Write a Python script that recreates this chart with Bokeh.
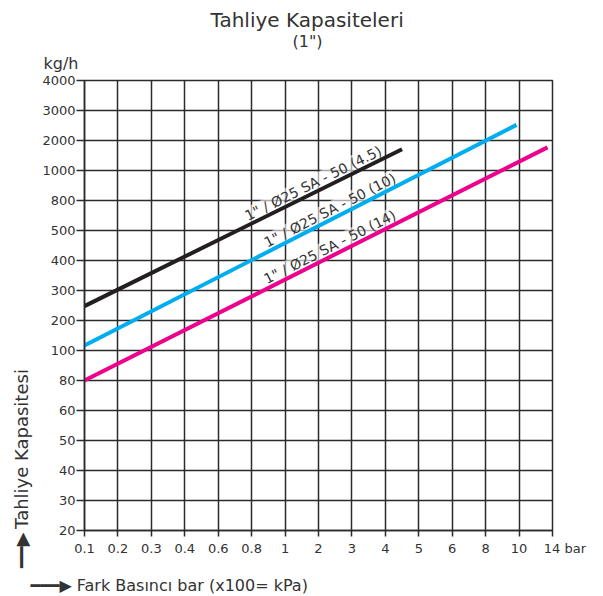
import numpy as np
from bokeh.plotting import figure
from bokeh.models import Range1d, FixedTicker, ColumnDataSource, Title
from bokeh.embed import file_html
from bokeh.resources import INLINE
from bokeh.core.properties import value

# ---- data ----
title_text = "Tahliye Kapasiteleri"
subtitle_text = '(1")'
y_unit = "kg/h"
x_unit = "bar"
y_title = "Tahliye Kapasitesi"
x_title = "Fark Basıncı bar (x100= kPa)"

x_ticks = [0.1, 0.2, 0.3, 0.4, 0.6, 0.8, 1, 2, 3, 4, 5, 6, 8, 10, 14]
x_tick_labels = ["0.1", "0.2", "0.3", "0.4", "0.6", "0.8", "1", "2", "3", "4", "5", "6", "8", "10", "14"]
y_ticks = [20, 30, 40, 50, 60, 80, 100, 200, 300, 400, 500, 800, 1000, 2000, 3000, 4000]
y_tick_labels = [str(v) for v in y_ticks]

series_names = ['1" / Ø25 SA - 50 (4.5)', '1" / Ø25 SA - 50 (10)', '1" / Ø25 SA - 50 (14)']
series_colors = ["#231f20", "#00aeef", "#ec008c"]
black_x = [0.1, 4.5]
black_y = [248, 1710]
blue_x = [0.1, 9.85]
blue_y = [117, 2520]
pink_x = [0.1, 13.4]
pink_y = [80, 1770]
label_at_bar = [1.95, 2.45, 2.45]

# ---- chart scale: ticks evenly spaced, linear between ticks ----
xi = np.arange(len(x_ticks))
yi = np.arange(len(y_ticks))


def xpos(v):
    return np.interp(v, x_ticks, xi)


def ypos(v):
    return np.interp(v, y_ticks, yi)


W, H = 598, 594
ML, MT = 84, 79
FRAME_R, FRAME_B = 552, 530
MR, MB = W - FRAME_R, H - FRAME_B
FW, FH = W - ML - MR, H - MT - MB
NX, NY = len(x_ticks) - 1, len(y_ticks) - 1
PX = FW / NX
PY = FH / NY

FONT = "DejaVu Sans"
GRID = "#2b2b2b"
TXT = "#333333"
NB = "\u00a0"
THIN = "\u2009"
ARROW2 = "\u2501\u2501\u25b6"
ARROW3 = "\u2501\u2501\u2501\u25b6"

p = figure(width=W, height=H, x_range=Range1d(0, NX), y_range=Range1d(0, NY),
           output_backend="svg", toolbar_location=None,
           min_border_left=ML, min_border_right=MR, min_border_top=MT, min_border_bottom=MB)
p.background_fill_color = "white"
p.border_fill_color = "white"
p.outline_line_color = GRID
p.outline_line_width = 1.5

xlabels = list(x_tick_labels)
xlabels[-1] = NB * 6 + xlabels[-1] + " " + x_unit

p.xaxis.ticker = FixedTicker(ticks=list(range(NX + 1)))
p.yaxis.ticker = FixedTicker(ticks=list(range(NY + 1)))
p.xaxis.major_label_overrides = {i: l for i, l in enumerate(xlabels)}
p.yaxis.major_label_overrides = {i: l for i, l in enumerate(y_tick_labels)}
for ax in (p.xaxis, p.yaxis):
    ax.axis_line_color = GRID
    ax.axis_line_width = 1.5
    ax.major_tick_line_color = GRID
    ax.major_tick_line_width = 1.5
    ax.major_tick_in = 0
    ax.minor_tick_line_color = None
    ax.major_label_text_font = FONT
    ax.major_label_text_font_size = "13px"
    ax.major_label_text_color = TXT
    ax.axis_label_text_font = FONT
    ax.axis_label_text_font_style = "normal"
    ax.axis_label_text_color = TXT
p.yaxis.major_tick_out = 8
p.yaxis.major_label_standoff = 1
p.xaxis.major_tick_out = 6
p.xaxis.major_label_standoff = 4

# x axis: an invisible spacer label pushes the title row (added below) down
p.xaxis.axis_label = NB
p.xaxis.axis_label_text_font_size = "1px"
p.xaxis.axis_label_standoff = 11
# y axis title with its arrow (padded with no-break spaces to sit like the reference)
p.yaxis.axis_label = ARROW2 + THIN + y_title + NB * 57
p.yaxis.axis_label_text_font_size = "18px"
p.yaxis.axis_label_standoff = 7

p.xgrid.ticker = FixedTicker(ticks=list(range(NX + 1)))
p.ygrid.ticker = FixedTicker(ticks=list(range(NY + 1)))
for g in (p.xgrid, p.ygrid):
    g.grid_line_color = GRID
    g.grid_line_width = 1.5
    g.grid_line_alpha = 1.0

# ---- series labels along lines ----
series = [(black_x, black_y), (blue_x, blue_y), (pink_x, pink_y)]
lx, ly, ang = [], [], []
for (sx, sy), bx in zip(series, label_at_bar):
    x0, x1 = xpos(sx[0]), xpos(sx[1])
    y0, y1 = ypos(sy[0]), ypos(sy[1])
    xb = float(xpos(bx))
    lx.append(xb)
    ly.append(float(y0 + (y1 - y0) * (xb - x0) / (x1 - x0)))
    ang.append(float(np.arctan2((y1 - y0) * PY, (x1 - x0) * PX)))
lsrc = ColumnDataSource(dict(x=lx, y=ly, t=series_names, a=ang))
p.text(x="x", y="y", text="t", angle="a", source=lsrc,
       text_font=value(FONT), text_font_size="14px", text_color=TXT,
       text_align="center", text_baseline="bottom", y_offset=-1,
       background_fill_color="white", background_fill_alpha=0.6)

for (sx, sy), c in zip(series, series_colors):
    p.line(xpos(sx), ypos(sy), line_color=c, line_width=4)


def title(text, side, size, standoff, align="left", offset=0):
    p.add_layout(Title(text=text, align=align, offset=offset, standoff=standoff,
                       text_font=FONT, text_font_size=size, text_font_style="normal",
                       text_color=TXT), side)


# above: nearest to frame first
title(y_unit, "above", "16px", 16, offset=43 - ML)
title(subtitle_text, "above", "16px", -14, offset=292 - ML)
title(title_text, "above", "20px", 10, offset=210 - ML)
# below: x title with its arrow
title(ARROW3 + " " + x_title, "below", "16px", 0, offset=30 - ML)

open("out.html", "w").write(file_html(p, INLINE))
